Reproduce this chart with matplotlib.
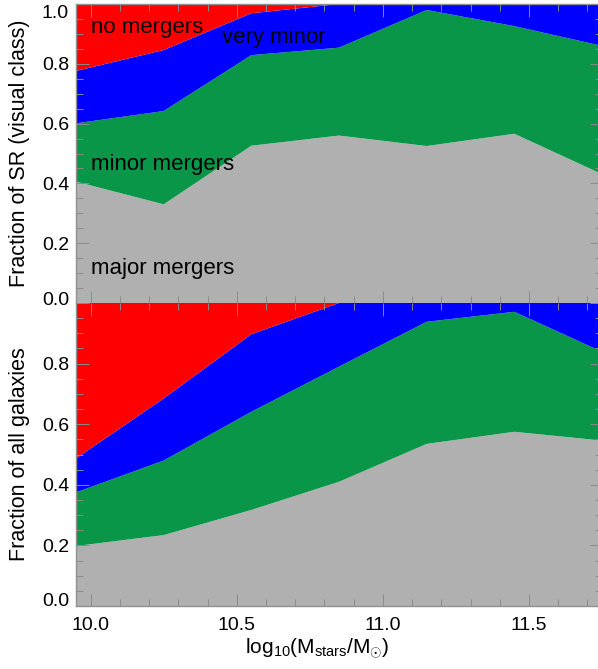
import matplotlib
matplotlib.use("Agg")
import matplotlib.pyplot as plt
from matplotlib.transforms import ScaledTranslation
from matplotlib.ticker import MultipleLocator, FixedLocator

plt.rcParams['font.family'] = ['Liberation Sans', 'DejaVu Sans']
plt.rcParams['mathtext.fontset'] = 'custom'
plt.rcParams['mathtext.rm'] = 'Liberation Sans'
plt.rcParams['mathtext.it'] = 'Liberation Sans:italic'
plt.rcParams['mathtext.bf'] = 'Liberation Sans:bold'

# ---- data ----
mass = [9.95, 10.25, 10.55, 10.85, 11.15, 11.45, 11.75]
categories = ["major mergers", "minor mergers", "very minor", "no mergers"]

# fractions of slow rotators (visual class)
sr_major = [0.406, 0.330, 0.526, 0.560, 0.525, 0.566, 0.431]
sr_minor = [0.195, 0.312, 0.303, 0.294, 0.455, 0.360, 0.429]
sr_vminor = [0.175, 0.204, 0.140, 0.146, 0.020, 0.074, 0.140]
sr_none = [0.224, 0.154, 0.031, 0.000, 0.000, 0.000, 0.000]

# fractions of all galaxies
all_major = [0.198, 0.234, 0.317, 0.410, 0.535, 0.575, 0.546]
all_minor = [0.177, 0.246, 0.324, 0.380, 0.403, 0.396, 0.293]
all_vminor = [0.112, 0.205, 0.256, 0.210, 0.062, 0.029, 0.161]
all_none = [0.513, 0.315, 0.103, 0.000, 0.000, 0.000, 0.000]

ytick_vals = [0.0, 0.2, 0.4, 0.6, 0.8, 1.0]
ytick_labels_top = ["0.0", "0.2", "0.4", "0.6", "0.8", "1.0"]
ytick_labels_bot = ["0.0", "0.2", "0.4", "0.6", "0.8", ""]
xtick_vals = [10.0, 10.5, 11.0, 11.5]
xtick_labels = ["10.0", "10.5", "11.0", "11.5"]

colors = ["#B0B0B0", "#0A9648", "#0000FF", "#FF0000"]

W, H = 598, 669
fig = plt.figure(figsize=(W / 100, H / 100), dpi=100)

def axbox(x0, y0, x1, y1):
    return [x0 / W, 1 - y1 / H, (x1 - x0) / W, (y1 - y0) / H]

ax_top = fig.add_axes(axbox(76, 4, 602, 303))
ax_bot = fig.add_axes(axbox(76, 303, 602, 606))

def style(ax, ylabels):
    ax.set_xlim(9.95, 11.75)
    ax.set_ylim(0, 1)
    ax.yaxis.set_major_locator(FixedLocator(ytick_vals))
    ax.set_yticklabels(ylabels)
    ax.yaxis.set_minor_locator(MultipleLocator(0.05))
    ax.xaxis.set_major_locator(FixedLocator(xtick_vals))
    ax.xaxis.set_minor_locator(MultipleLocator(0.1))
    ax.tick_params(which='both', direction='in', top=True, right=True,
                   color='#8a8a8a', width=0.7)
    ax.tick_params(which='major', length=9, labelsize=14)
    ax.tick_params(axis='y', which='major', pad=5)
    ax.tick_params(axis='x', which='major', pad=8)
    ax.tick_params(which='minor', length=5)
    for sp in ax.spines.values():
        sp.set_color('#909090')
        sp.set_linewidth(1.0)

# top panel
ax_top.stackplot(mass, sr_major, sr_minor, sr_vminor, sr_none,
                 colors=colors, linewidth=0)
style(ax_top, ytick_labels_top)
ax_top.spines['bottom'].set_visible(False)
ax_top.set_xticklabels([])
ax_top.set_ylabel("Fraction of SR (visual class)", fontsize=15.5)
ax_top.yaxis.set_label_coords(-0.088, 0.5)

txt_kw = dict(fontsize=16, color='black', ha='left', va='baseline')
ax_top.text(10.0, 0.902, "no mergers", **txt_kw)
ax_top.text(10.451, 0.871, "very minor", **txt_kw)
ax_top.text(10.0, 0.445, "minor mergers", **txt_kw)
ax_top.text(10.0, 0.096, "major mergers", **txt_kw)

# bottom panel
ax_bot.stackplot(mass, all_major, all_minor, all_vminor, all_none,
                 colors=colors, linewidth=0)
style(ax_bot, ytick_labels_bot)
ax_bot.spines['top'].set_visible(False)
ax_bot.set_xticklabels(xtick_labels)
ax_bot.set_ylabel("Fraction of all galaxies", fontsize=15.5)
ax_bot.yaxis.set_label_coords(-0.088, 0.5)
ax_bot.set_xlabel(r"log$_{10}$(M$_{\mathrm{stars}}$/M$_{\odot}$)", fontsize=15)
ax_bot.xaxis.set_label_coords(0.459, -0.10)

# shift end labels inward like the original
def shift(label, dy_px):
    label.set_transform(label.get_transform() +
                        ScaledTranslation(0, dy_px / 100, fig.dpi_scale_trans))

tt = ax_top.yaxis.get_major_ticks()
shift(tt[0].label1, 4.5)
shift(tt[-1].label1, -7.5)
tb = ax_bot.yaxis.get_major_ticks()
shift(tb[0].label1, 7)

fig.savefig("out.png", dpi=100)
